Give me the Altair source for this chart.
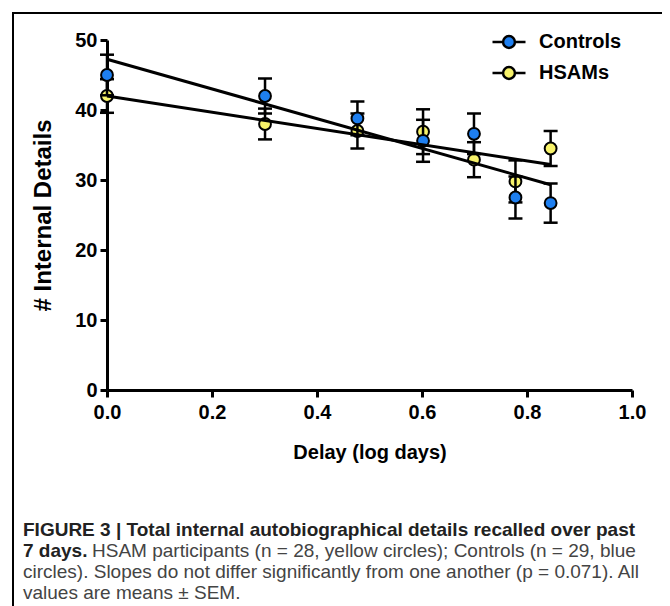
import altair as alt
import pandas as pd

# ---- data ----
delay_log = [0.0, 0.301, 0.477, 0.602, 0.699, 0.778, 0.845]
controls_mean = [45.0, 42.0, 38.8, 35.6, 36.6, 27.5, 26.7]
controls_sem = [2.9, 2.5, 2.4, 3.0, 2.9, 3.0, 2.8]
hsam_mean = [42.0, 38.0, 37.0, 36.9, 32.9, 29.8, 34.5]
hsam_sem = [2.4, 2.2, 2.5, 3.2, 2.5, 3.0, 2.5]
series_names = ["Controls", "HSAMs"]
series_colors = ["#1E7FF0", "#F7F26A"]
x_ticks = [0.0, 0.2, 0.4, 0.6, 0.8, 1.0]
y_ticks = [0, 10, 20, 30, 40, 50]

caption_l1 = "FIGURE 3 | Total internal autobiographical details recalled over past"
caption_l2a = "7 days."
caption_l2b = "HSAM participants (n = 28, yellow circles); Controls (n = 29, blue"
caption_l3 = "circles). Slopes do not differ significantly from one another (p = 0.071). All"
caption_l4 = "values are means \u00b1 SEM."

rows = []
for name, means, sems in [("HSAMs", hsam_mean, hsam_sem), ("Controls", controls_mean, controls_sem)]:
    for x, m, s in zip(delay_log, means, sems):
        rows.append({"series": name, "x": x, "mean": m, "lo": m - s, "hi": m + s})
df = pd.DataFrame(rows)

FONT = "Liberation Sans"

xenc = alt.X("x:Q", scale=alt.Scale(domain=[0, 1], nice=False),
             axis=alt.Axis(values=x_ticks, format=".1f", title="Delay (log days)",
                           labelFlush=False, labelPadding=5, titlePadding=20))
yenc = alt.Y("mean:Q", scale=alt.Scale(domain=[0, 50], nice=False),
             axis=alt.Axis(values=y_ticks, title="# Internal Details", titlePadding=19))

fill_enc = alt.Fill("series:N",
                    scale=alt.Scale(domain=series_names, range=series_colors),
                    legend=alt.Legend(title=None, orient="none", legendX=384, legendY=-16,
                                      symbolType="M-1,0L-0.36,0M0.36,0L1,0M0.36,0A0.36,0.36,0,1,1,-0.36,0A0.36,0.36,0,1,1,0.36,0Z",
                                      symbolSize=1089, symbolStrokeColor="black",
                                      symbolStrokeWidth=2.5, symbolOpacity=1,
                                      labelFont=FONT, labelFontWeight="bold",
                                      labelFontSize=20, labelColor="black",
                                      labelOffset=12, rowPadding=2, padding=0))

base = alt.Chart(df)


def series_layers(name):
    d = base.transform_filter(alt.datum.series == name)
    rule = d.mark_rule(color="black", strokeWidth=2.5).encode(x=xenc, y=alt.Y("lo:Q"), y2="hi:Q")
    cap_lo = d.mark_tick(color="black", orient="horizontal", size=14, thickness=2.5,
                         opacity=1).encode(x=xenc, y=alt.Y("lo:Q"))
    cap_hi = d.mark_tick(color="black", orient="horizontal", size=14, thickness=2.5,
                         opacity=1).encode(x=xenc, y=alt.Y("hi:Q"))
    pts = d.mark_point(shape="circle", filled=True, size=140, stroke="black",
                       strokeWidth=2, opacity=1).encode(x=xenc, y=yenc, fill=fill_enc)
    return [rule, cap_lo, cap_hi, pts]


reg = base.transform_regression("x", "mean", groupby=["series"]).mark_line(
    color="black", strokeWidth=3).encode(x=xenc, y=yenc, detail="series:N")

one = alt.Data(values=[{}])
frame = alt.Chart(one).mark_rect(filled=False, stroke="black", strokeWidth=2).encode(
    x=alt.value(-94), y=alt.value(-27), x2=alt.value(900), y2=alt.value(900))


def txt(s, x, y, bold=False, color="#222222", size=19):
    return alt.Chart(one).mark_text(align="left", baseline="middle", font=FONT,
                                    fontSize=size, fontWeight="bold" if bold else "normal",
                                    color=color).encode(
        x=alt.value(x), y=alt.value(y), text=alt.value(s))


cap_y0 = 490
lh = 21
captions = [
    txt(caption_l1, -84, cap_y0, bold=True),
    txt(caption_l2a, -84, cap_y0 + lh, bold=True),
    txt(caption_l2b, -15, cap_y0 + lh, color="#444444"),
    txt(caption_l3, -84, cap_y0 + 2 * lh, color="#444444"),
    txt(caption_l4, -84, cap_y0 + 3 * lh, color="#444444"),
]

chart = alt.layer(
    frame,
    *series_layers("HSAMs"),
    *series_layers("Controls"),
    reg,
    *captions,
).properties(
    width=525, height=350,
    padding={"left": 99, "top": 32, "right": 30, "bottom": 216},
    autosize=alt.AutoSizeParams(type="none"),
).configure_view(stroke=None).configure_axis(
    grid=False, domainColor="black", domainWidth=3, tickColor="black", tickWidth=3,
    tickSize=7, labelFont=FONT, labelFontWeight="bold", labelFontSize=20,
    labelColor="black", labelPadding=3, titleFont=FONT, titleFontWeight="bold",
    titleColor="black",
).configure_axisX(titleFontSize=20).configure_axisY(titleFontSize=24)

chart.save("out.html", embed_options={"renderer": "svg", "actions": False})
